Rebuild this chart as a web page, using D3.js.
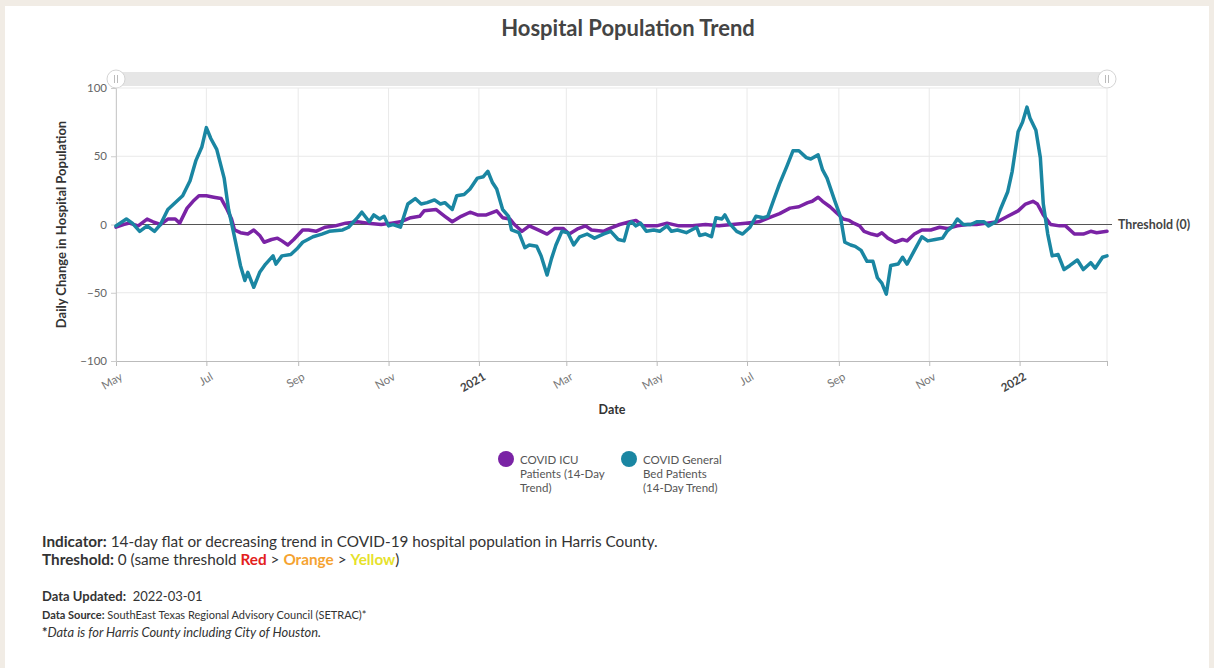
<!DOCTYPE html>
<html>
<head>
<meta charset="utf-8">
<script src="https://cdn.jsdelivr.net/npm/d3@7"></script>
<style>
	body { margin: 0; background: #f1ece5; font-family: Lato, "Open Sans", sans-serif; }
	svg { display: block; }
	text { white-space: pre; }
	.axis text { font-family: Lato, sans-serif; }
</style>
</head>
<body>
<script>

// ICU patients, 14-day trend
const icuDates = [
	'2020-05-01','2020-05-06','2020-05-10','2020-05-16','2020-05-22','2020-05-26','2020-05-31','2020-06-05',
	'2020-06-10','2020-06-13','2020-06-18','2020-06-22','2020-06-26','2020-07-01','2020-07-06','2020-07-11',
	'2020-07-15','2020-07-18','2020-07-20','2020-07-24','2020-07-29','2020-08-02','2020-08-06','2020-08-09',
	'2020-08-14','2020-08-18','2020-08-21','2020-08-25','2020-08-29','2020-09-04','2020-09-08','2020-09-13',
	'2020-09-19','2020-09-26','2020-10-03','2020-10-11','2020-10-18','2020-10-27','2020-11-03','2020-11-09',
	'2020-11-16','2020-11-22','2020-11-25','2020-12-03','2020-12-09','2020-12-14','2020-12-20','2020-12-26',
	'2020-12-31','2021-01-06','2021-01-13','2021-01-17','2021-01-22','2021-01-25','2021-01-30','2021-02-04',
	'2021-02-10','2021-02-16','2021-02-21','2021-02-27','2021-03-03','2021-03-09','2021-03-14','2021-03-18',
	'2021-03-26','2021-03-30','2021-04-06','2021-04-13','2021-04-17','2021-04-22','2021-05-01','2021-05-08',
	'2021-05-16','2021-05-25','2021-06-03','2021-06-12','2021-06-21','2021-06-30','2021-07-09','2021-07-16',
	'2021-07-23','2021-07-30','2021-08-05','2021-08-11','2021-08-14','2021-08-18','2021-08-21','2021-08-26',
	'2021-08-30','2021-09-04','2021-09-08','2021-09-11','2021-09-15','2021-09-18','2021-09-23','2021-09-27',
	'2021-09-30','2021-10-04','2021-10-09','2021-10-14','2021-10-17','2021-10-22','2021-10-27','2021-11-02',
	'2021-11-08','2021-11-13','2021-11-20','2021-11-27','2021-12-03','2021-12-10','2021-12-17','2021-12-24',
	'2021-12-31','2022-01-05','2022-01-10','2022-01-13','2022-01-17','2022-01-22','2022-01-28','2022-02-01',
	'2022-02-07','2022-02-13','2022-02-18','2022-02-22','2022-03-01'
];
const icuValues = [
	-2, 0, 1, -1, 4, 2, 0, 4,
	4, 1, 12, 17, 21, 21, 20, 19,
	11, 4, -4, -6, -7, -4, -8, -13,
	-11, -10, -12, -15, -11, -4, -4, -5,
	-2, -1, 1, 2, 1, 0, 1, 2,
	5, 6, 10, 11, 6, 2, 6, 9,
	7, 7, 10, 5, 4, 0, -5, -1,
	-4, -7, -3, -3, -7, -3, -1, -4,
	-5, -3, 0, 2, 3, -1, -1, 1,
	-1, -1, 0, -1, 0, 1, 2, 5,
	8, 12, 13, 16, 17, 20, 17, 13,
	9, 4, 3, 1, -1, -5, -7, -8,
	-6, -10, -13, -11, -12, -7, -4, -4,
	-2, -3, -1, 0, 0, 1, 2, 6,
	10, 15, 17, 15, 7, 0, -1, -1,
	-7, -7, -5, -6, -5
];

// general bed patients, 14-day trend
const bedDates = [
	'2020-05-01','2020-05-08','2020-05-12','2020-05-17','2020-05-22','2020-05-27','2020-05-31','2020-06-05',
	'2020-06-11','2020-06-15','2020-06-20','2020-06-24','2020-06-28','2020-07-01','2020-07-04','2020-07-08',
	'2020-07-13','2020-07-16','2020-07-20','2020-07-24','2020-07-27','2020-07-29','2020-08-02','2020-08-06',
	'2020-08-10','2020-08-15','2020-08-17','2020-08-21','2020-08-27','2020-08-31','2020-09-04','2020-09-11',
	'2020-09-17','2020-09-22','2020-10-01','2020-10-05','2020-10-11','2020-10-14','2020-10-19','2020-10-22',
	'2020-10-26','2020-10-29','2020-11-01','2020-11-04','2020-11-09','2020-11-14','2020-11-19','2020-11-23',
	'2020-11-27','2020-12-02','2020-12-06','2020-12-09','2020-12-14','2020-12-17','2020-12-22','2020-12-26',
	'2020-12-31','2021-01-04','2021-01-07','2021-01-10','2021-01-13','2021-01-17','2021-01-21','2021-01-23',
	'2021-01-28','2021-02-01','2021-02-04','2021-02-09','2021-02-12','2021-02-16','2021-02-19','2021-02-22',
	'2021-02-26','2021-03-02','2021-03-06','2021-03-10','2021-03-15','2021-03-20','2021-03-26','2021-03-31',
	'2021-04-05','2021-04-09','2021-04-12','2021-04-14','2021-04-17','2021-04-20','2021-04-24','2021-04-29',
	'2021-05-03','2021-05-08','2021-05-11','2021-05-15','2021-05-21','2021-05-28','2021-05-30','2021-06-03',
	'2021-06-07','2021-06-10','2021-06-14','2021-06-16','2021-06-19','2021-06-24','2021-06-28','2021-07-03',
	'2021-07-07','2021-07-12','2021-07-15','2021-07-19','2021-07-23','2021-07-28','2021-08-01','2021-08-05',
	'2021-08-10','2021-08-13','2021-08-18','2021-08-21','2021-08-24','2021-08-29','2021-09-02','2021-09-05',
	'2021-09-09','2021-09-12','2021-09-16','2021-09-20','2021-09-24','2021-09-27','2021-09-30','2021-10-03',
	'2021-10-06','2021-10-11','2021-10-14','2021-10-17','2021-10-22','2021-10-27','2021-10-31','2021-11-05',
	'2021-11-10','2021-11-13','2021-11-17','2021-11-20','2021-11-24','2021-11-29','2021-12-03','2021-12-08',
	'2021-12-11','2021-12-16','2021-12-19','2021-12-24','2021-12-27','2021-12-31','2022-01-03','2022-01-06',
	'2022-01-08','2022-01-12','2022-01-15','2022-01-17','2022-01-20','2022-01-23','2022-01-27','2022-01-31',
	'2022-02-04','2022-02-09','2022-02-13','2022-02-18','2022-02-21','2022-02-26','2022-03-01'
];
const bedValues = [
	-1, 4, 1, -5, -1, -5, 0, 11,
	17, 21, 32, 47, 57, 71, 63, 55,
	34, 11, -9, -30, -41, -35, -46, -35,
	-29, -23, -29, -23, -22, -18, -13, -9,
	-7, -5, -4, -2, 5, 9, 2, 7,
	4, 6, -1, 0, -2, 15, 19, 15,
	16, 18, 15, 16, 11, 21, 22, 26,
	34, 35, 39, 31, 26, 11, 6, -4,
	-6, -17, -15, -16, -23, -37, -25, -15,
	-5, -6, -15, -9, -7, -10, -7, -5,
	-11, -12, 0, 2, -1, 1, -5, -4,
	-5, -1, -5, -4, -6, -2, -8, -7,
	-9, 5, 4, 7, 1, -5, -7, -2,
	6, 5, 6, 18, 30, 43, 54, 54,
	49, 48, 51, 40, 34, 18, 6, -13,
	-15, -16, -19, -27, -27, -39, -43, -51,
	-30, -29, -24, -29, -19, -9, -12, -11,
	-10, -5, -1, 4, 0, 0, 2, 2,
	-1, 2, 11, 24, 39, 68, 75, 86,
	78, 69, 49, 15, -7, -23, -22, -33,
	-30, -26, -33, -28, -32, -24, -23
];

const seriesNames = [
	['COVID ICU', 'Patients (14-Day', 'Trend)'],
	['COVID General', 'Bed Patients', '(14-Day Trend)']
];
const seriesColors = ['#7a23a5', '#1a86a2'];
const yTicks = [-100, -50, 0, 50, 100];
const dateRange = ['2020-05-01', '2022-03-01'];

const W = 1214, H = 668;
const parse = d3.timeParse('%Y-%m-%d');

const svg = d3.select('body').append('svg')
	.attr('width', W)
	.attr('height', H);

svg.append('rect').attr('width', W).attr('height', H).attr('fill', '#f1ece5');
svg.append('rect').attr('x', 5).attr('y', 6).attr('width', W - 10).attr('height', H - 6).attr('fill', '#fff');

const xScale = d3.scaleTime()
	.domain(dateRange.map(parse))
	.range([116, 1107]);

const yScale = d3.scaleLinear()
	.domain([-100, 100])
	.range([361, 88]);

// title
svg.append('text')
	.attr('x', 628).attr('y', 36)
	.attr('text-anchor', 'middle')
	.style('font-size', '22px').style('font-weight', 700).style('fill', '#444')
	.text('Hospital Population Trend');

// navigator bar on top
svg.append('rect')
	.attr('x', xScale.range()[0]).attr('y', 72)
	.attr('width', xScale.range()[1] - xScale.range()[0]).attr('height', 14)
	.attr('fill', '#e6e6e6');
xScale.range().forEach(hx => {
	const h = svg.append('g').attr('transform', `translate(${ hx },79)`);
	h.append('circle').attr('r', 9).attr('fill', '#fff').attr('stroke', '#d4d4d4');
	[-1.5, 1.5].forEach(dx => h.append('line')
		.attr('x1', dx).attr('x2', dx).attr('y1', -4).attr('y2', 4)
		.attr('stroke', '#aaa').attr('stroke-width', 0.8));
});

const xTicks = xScale.ticks(d3.timeMonth.every(2));

// grid
svg.append('g').selectAll('line')
	.data(xTicks)
	.enter().append('line')
	.attr('x1', d => xScale(d)).attr('x2', d => xScale(d))
	.attr('y1', yScale(100)).attr('y2', yScale(-100))
	.attr('stroke', '#e9e9e9');
svg.append('g').selectAll('line')
	.data(yTicks.filter(d => d !== 0 && d !== -100))
	.enter().append('line')
	.attr('x1', xScale.range()[0]).attr('x2', xScale.range()[1])
	.attr('y1', d => yScale(d)).attr('y2', d => yScale(d))
	.attr('stroke', '#e9e9e9');

// axes
const fmt = d => d.getMonth() === 0 ? d3.timeFormat('%Y')(d) : d3.timeFormat('%b')(d);
const xAxis = d3.axisBottom(xScale)
	.tickValues(xTicks)
	.tickSize(5)
	.tickFormat((d, i) => i === xTicks.length - 1 ? '' : fmt(d));
const gx = svg.append('g')
	.classed('x axis', true)
	.attr('transform', `translate(0,${ yScale(-100) })`)
	.call(xAxis);
gx.select('.domain').attr('stroke', '#bbb');
gx.selectAll('.tick line').attr('stroke', '#bbb');
gx.selectAll('.tick text')
	.attr('text-anchor', 'end')
	.attr('dy', null)
	.attr('y', null)
	.attr('transform', 'translate(7,18) rotate(-30)')
	.style('font-size', '11.5px')
	.style('fill', d => d.getMonth() === 0 ? '#444' : '#777')
	.style('font-weight', d => d.getMonth() === 0 ? 700 : 400);

const yAxis = d3.axisLeft(yScale)
	.tickValues(yTicks)
	.tickSize(5)
	.tickPadding(4);
const gy = svg.append('g')
	.classed('y axis', true)
	.attr('transform', `translate(${ xScale.range()[0] },0)`)
	.call(yAxis);
gy.select('.domain').attr('stroke', '#ccc');
gy.selectAll('.tick line').attr('stroke', '#ccc');
gy.selectAll('.tick text').style('font-size', '11.5px').style('fill', '#666');

// threshold
svg.append('line')
	.attr('x1', xScale.range()[0]).attr('x2', 1112)
	.attr('y1', yScale(0)).attr('y2', yScale(0))
	.attr('stroke', '#555').attr('stroke-width', 1);
svg.append('text')
	.attr('x', 1118).attr('y', yScale(0) + 4)
	.style('font-size', '12.4px').style('font-weight', 700).style('fill', '#444')
	.text('Threshold (0)');

// axis titles
svg.append('text')
	.attr('x', 612).attr('y', 414)
	.attr('text-anchor', 'middle')
	.style('font-size', '12.5px').style('font-weight', 700).style('fill', '#333')
	.text('Date');
svg.append('text')
	.attr('transform', `translate(66,${ yScale(0) }) rotate(-90)`)
	.attr('text-anchor', 'middle')
	.style('font-size', '13px').style('font-weight', 700).style('fill', '#333')
	.text('Daily Change in Hospital Population');

// lines
const series = [
	icuDates.map((d, i) => ({ date: parse(d), value: icuValues[i] })),
	bedDates.map((d, i) => ({ date: parse(d), value: bedValues[i] }))
];
const line = d3.line()
	.x(d => xScale(d.date))
	.y(d => yScale(d.value));
svg.append('g').selectAll('path')
	.data(series)
	.enter().append('path')
	.attr('d', line)
	.attr('fill', 'none')
	.attr('stroke', (d, i) => seriesColors[i])
	.attr('stroke-width', 3.5)
	.attr('stroke-linejoin', 'round')
	.attr('stroke-linecap', 'round');

// legend
const legend = svg.append('g').selectAll('g')
	.data(seriesNames)
	.enter().append('g')
	.attr('transform', (d, i) => `translate(${ 506 + i * 123 },459)`);
legend.append('circle')
	.attr('r', 8)
	.attr('fill', (d, i) => seriesColors[i]);
legend.append('text')
	.style('font-size', '11.5px').style('fill', '#555')
	.selectAll('tspan')
	.data(d => d)
	.enter().append('tspan')
	.attr('x', 14)
	.attr('y', (d, i) => 5 + i * 14)
	.text(d => d);

// footnotes
const note = svg.append('g').style('fill', '#333');
const t1 = note.append('text').attr('x', 42).attr('y', 547).style('font-size', '15.3px');
t1.append('tspan').style('font-weight', 700).text('Indicator:');
t1.append('tspan').text(' 14-day flat or decreasing trend in COVID-19 hospital population in Harris County.');

const t2 = note.append('text').attr('x', 42).attr('y', 565).style('font-size', '15.3px');
t2.append('tspan').style('font-weight', 700).text('Threshold:');
t2.append('tspan').text(' 0 (same threshold ');
t2.append('tspan').style('font-weight', 700).style('fill', '#e3201c').text('Red');
t2.append('tspan').text(' > ');
t2.append('tspan').style('font-weight', 700).style('fill', '#f5a331').text('Orange');
t2.append('tspan').text(' > ');
t2.append('tspan').style('font-weight', 700).style('fill', '#e6e12a').text('Yellow');
t2.append('tspan').text(')');

const t3 = note.append('text').attr('x', 42).attr('y', 601).style('font-size', '13px');
t3.append('tspan').style('font-weight', 700).text('Data Updated:');
t3.append('tspan').text('  2022-03-01');

const t4 = note.append('text').attr('x', 42).attr('y', 619).style('font-size', '11px');
t4.append('tspan').style('font-weight', 700).text('Data Source:');
t4.append('tspan').text(' SouthEast Texas Regional Advisory Council (SETRAC)*');

const t5 = note.append('text').attr('x', 42).attr('y', 637).style('font-size', '12.9px');
t5.append('tspan').style('font-weight', 700).text('*');
t5.append('tspan').style('font-style', 'italic').text('Data is for Harris County including City of Houston.');

</script>
</body>
</html>
